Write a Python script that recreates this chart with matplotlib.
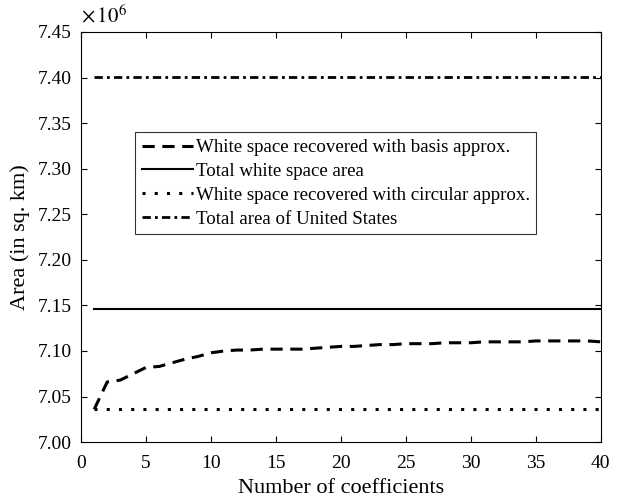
import numpy as np
import matplotlib.pyplot as plt
from matplotlib.ticker import FormatStrFormatter

plt.rcParams['font.family'] = ['Liberation Serif', 'DejaVu Serif']
plt.rcParams['mathtext.fontset'] = 'stix'

# number of coefficients
n_coef = list(range(1, 41))

# areas in millions of sq. km
basis_area = [7.036, 7.066, 7.068, 7.075, 7.082, 7.083, 7.087, 7.091, 7.094, 7.098,
              7.100, 7.101, 7.101, 7.102, 7.102, 7.102, 7.102, 7.103, 7.104, 7.105,
              7.105, 7.106, 7.107, 7.107, 7.108, 7.108, 7.108, 7.109, 7.109, 7.109,
              7.110, 7.110, 7.110, 7.110, 7.111, 7.111, 7.111, 7.111, 7.111, 7.110]
total_ws_area = 7.146
circular_area = 7.036
us_area = 7.401

fig = plt.figure(figsize=(6.2, 4.99), dpi=100)
ax = fig.add_axes([0.131, 0.114, 0.838, 0.822])

x = np.array(n_coef)
ax.plot(x, basis_area, color='black', linestyle=(0, (4, 2.5)), linewidth=2.2,
        label='White space recovered with basis approx.')
ax.plot(x, [total_ws_area] * len(x), color='black', linestyle='-', linewidth=1.5,
        label='Total white space area')
ax.plot(x, [circular_area] * len(x), color='black', linestyle=(0, (1, 3)), linewidth=2.2,
        label='White space recovered with circular approx.')
ax.plot(x, [us_area] * len(x), color='black', linestyle=(0, (3, 1.5, 1, 1.5)), linewidth=2.0,
        label='Total area of United States')

ax.set_xlim(0, 40)
ax.set_ylim(7.00, 7.45)
ax.set_xticks(np.arange(0, 41, 5))
ax.set_yticks(np.arange(7.00, 7.451, 0.05))
ax.yaxis.set_major_formatter(FormatStrFormatter('%.2f'))
ax.tick_params(direction='in', top=True, right=True, labelsize=14, length=4, pad=7)
ax.tick_params(axis='x', pad=9)
for s in ax.spines.values():
    s.set_linewidth(0.8)

ax.set_xlabel('Number of coefficients', fontsize=16, labelpad=5)
ax.set_ylabel('Area (in sq. km)', fontsize=16, labelpad=5)
ax.text(0.0, 1.01, r'$\times\,10^{6}$', transform=ax.transAxes, fontsize=15,
        ha='left', va='bottom')

leg = ax.legend(loc='upper left', bbox_to_anchor=(0.104, 0.755), fontsize=13.6,
                frameon=True, fancybox=False, edgecolor='black', handlelength=2.7,
                borderpad=0.35, labelspacing=0.35, handletextpad=0.15, borderaxespad=0)
leg.get_frame().set_linewidth(0.8)

plt.savefig('out.png', dpi=100)
